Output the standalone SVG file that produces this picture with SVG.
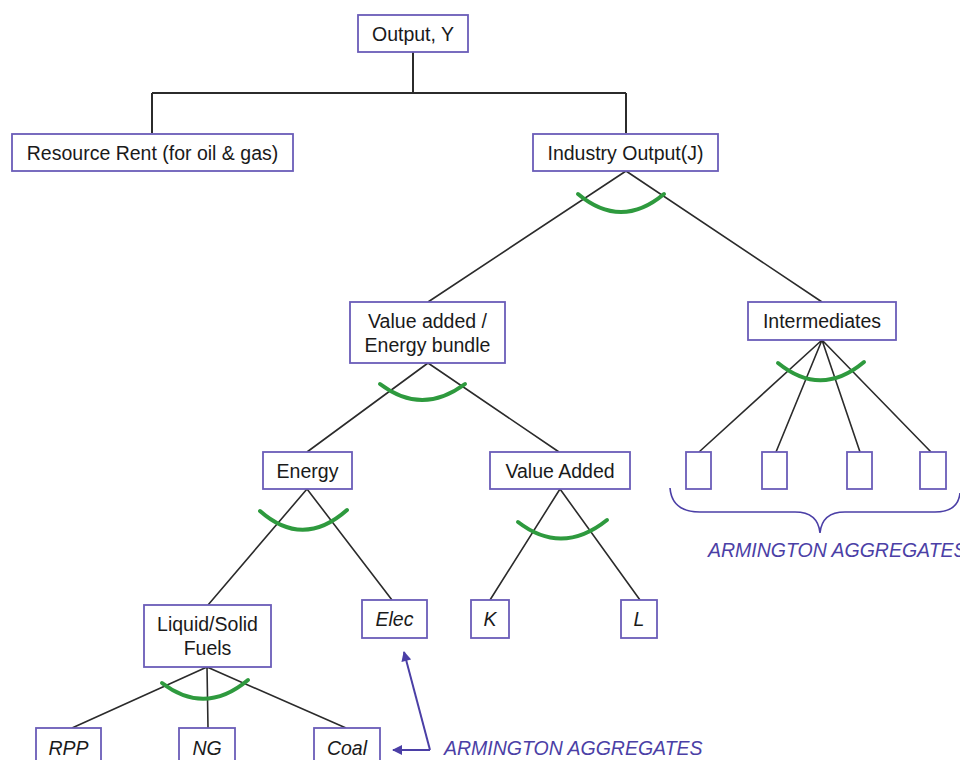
<svg xmlns="http://www.w3.org/2000/svg" width="960" height="760" viewBox="0 0 960 760">
<style>
.box{fill:#ffffff;stroke:#6a5cb8;stroke-width:1.8}
.t{font-family:"Liberation Sans",Arial,sans-serif;font-size:19.5px;fill:#1a1a1a;text-anchor:middle}
.i{font-style:italic}
.ln{stroke:#2b2b2b;stroke-width:1.6;fill:none}
.arc{stroke:#2e9a3e;stroke-width:4;fill:none;stroke-linecap:round}
.arm{font-family:"Liberation Sans",Arial,sans-serif;font-size:19.5px;font-style:italic;fill:#4b3fa6}
.blue{stroke:#4b3fa6;stroke-width:2;fill:none}
</style>
<defs>
<marker id="ah" viewBox="0 0 10 10" refX="9" refY="5" markerWidth="11" markerHeight="10" markerUnits="userSpaceOnUse" orient="auto">
<path d="M0,0 L10,5 L0,10 z" fill="#4b3fa6"/>
</marker>
</defs>
<rect width="960" height="760" fill="#ffffff"/>
<g id="connectors">
<path class="ln" d="M413,52 V93 M152,93 H626 M152,93 V133 M626,93 V133" style="stroke-width:2"/>
<path class="ln" d="M626,171 L428,302 M626,171 L822,302"/>
<path class="ln" d="M428,363 L307,452 M428,363 L559,452"/>
<path class="ln" d="M822,340 L699,452 M822,340 L776,452 M822,340 L860,452 M822,340 L931,452"/>
<path class="ln" d="M307,489 L208,605 M307,489 L392,600"/>
<path class="ln" d="M560,489 L490,600 M560,489 L640,600"/>
<path class="ln" d="M207,667 L72,728 M207,667 L208,728 M207,667 L346,728"/>
<path class="arc" d="M578,194 Q621,230 664,194"/>
<path class="arc" d="M380,384 Q422,416 465,384"/>
<path class="arc" d="M778,363 Q821,398 864,362"/>
<path class="arc" d="M260,511 Q303,549 347,510"/>
<path class="arc" d="M518,522 Q562,556 607,520"/>
<path class="arc" d="M162,683 Q205,716 248,680"/>
<path class="blue" d="M430,750 L404,652" marker-end="url(#ah)"/>
<path class="blue" d="M430,750 L393,750" marker-end="url(#ah)"/>
<path class="blue" style="stroke-width:1.6" d="M670,488 Q672,512 700,512 L795,512 Q818,512 820,533 Q822,512 845,512 L935,512 Q958,512 960,493"/>
</g>
<g id="output"><rect class="box" x="358" y="15" width="110" height="37"/><text class="t" x="413" y="41">Output, Y</text></g>
<g id="resource-rent"><rect class="box" x="12" y="134" width="281" height="37"/><text class="t" x="152.5" y="160">Resource Rent (for oil &amp; gas)</text></g>
<g id="industry-output"><rect class="box" x="533" y="134" width="185" height="37"/><text class="t" x="625.5" y="160">Industry Output(J)</text></g>
<g id="va-energy-bundle"><rect class="box" x="350" y="302" width="155" height="61"/><text class="t" x="427.5" y="328">Value added /</text><text class="t" x="427.5" y="352">Energy bundle</text></g>
<g id="intermediates"><rect class="box" x="748" y="302" width="148" height="38"/><text class="t" x="822" y="328">Intermediates</text></g>
<g id="energy"><rect class="box" x="263" y="452" width="89" height="37"/><text class="t" x="307.5" y="477.5">Energy</text></g>
<g id="value-added"><rect class="box" x="490" y="452" width="140" height="37"/><text class="t" x="560" y="477.5">Value Added</text></g>
<g id="int-1"><rect class="box" x="686" y="452" width="25" height="37"/></g>
<g id="int-2"><rect class="box" x="762" y="452" width="25" height="37"/></g>
<g id="int-3"><rect class="box" x="847" y="452" width="25" height="37"/></g>
<g id="int-4"><rect class="box" x="920" y="452" width="26" height="37"/></g>
<g id="liquid-solid"><rect class="box" x="144" y="605" width="127" height="62"/><text class="t" x="207.5" y="631">Liquid/Solid</text><text class="t" x="207.5" y="655">Fuels</text></g>
<g id="elec"><rect class="box" x="362" y="600" width="65" height="38"/><text class="t i" x="394.5" y="626">Elec</text></g>
<g id="k"><rect class="box" x="471" y="600" width="38" height="38"/><text class="t i" x="490" y="626">K</text></g>
<g id="l"><rect class="box" x="621" y="600" width="36" height="38"/><text class="t i" x="639" y="626">L</text></g>
<g id="rpp"><rect class="box" x="36" y="728" width="65" height="40"/><text class="t i" x="68.5" y="755">RPP</text></g>
<g id="ng"><rect class="box" x="179" y="728" width="56" height="40"/><text class="t i" x="207" y="755">NG</text></g>
<g id="coal"><rect class="box" x="314" y="728" width="66" height="40"/><text class="t i" x="347" y="755">Coal</text></g>
<text class="arm" x="708" y="557">ARMINGTON AGGREGATES</text>
<text class="arm" x="444" y="755">ARMINGTON AGGREGATES</text>
</svg>
